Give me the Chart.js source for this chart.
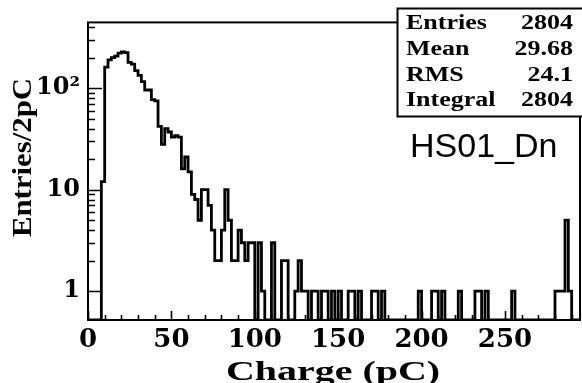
<!DOCTYPE html>
<html>
<head>
<meta charset="utf-8">
<script src="https://cdn.jsdelivr.net/npm/chart.js@4/dist/chart.umd.min.js"></script>
<style>
  html, body { margin: 0; padding: 0; background: #fff; }
  #wrap { width: 582px; height: 383px; }
</style>
</head>
<body>
<div id="wrap"><canvas id="hist"></canvas></div>
<script>
// HS01_Dn charge spectrum, 2 pC bins starting at 0
const binWidth = 2;
const counts = [
  0, 0, 0, 0, 12, 161, 190, 200, 207, 222,
  228, 224, 180, 173, 149, 134, 116, 96, 96, 77,
  75, 42, 28, 40, 37, 33, 34, 33, 16, 21,
  15, 9, 8, 5, 10, 10, 7, 4, 2, 2,
  4, 10, 5, 2, 2, 4, 3, 2, 3, 3,
  0, 3, 1, 0, 0, 3, 0, 0, 2, 2,
  0, 0, 1, 2, 1, 1, 0, 1, 1, 0,
  1, 1, 0, 1, 0, 1, 0, 0, 1, 1,
  0, 1, 0, 0, 0, 1, 1, 0, 1, 0,
  0, 0, 0, 0, 0, 0, 0, 0, 0, 1,
  0, 0, 0, 1, 1, 0, 1, 0, 0, 0,
  0, 1, 0, 0, 0, 0, 1, 1, 0, 1,
  0, 0, 0, 0, 0, 0, 0, 1, 0, 0,
  0, 0, 0, 0, 0, 0, 0, 0, 0, 0,
  1, 1, 1, 5, 1, 0, 0, 0
];

const xTickValues = [0, 50, 100, 150, 200, 250];
const xTickLabels = ["0", "50", "100", "150", "200", "250"];
const yTickValues = [1, 10, 100];
const yTickLabels = ["1", "10", "10\u00b2"];

const statNames = ["Entries", "Mean", "RMS", "Integral"];
const statValues = ["2804", "29.68", "24.1", "2804"];
const histName = "HS01_Dn";
const xTitle = "Charge (pC)";
const yTitle = "Entries/2pC";

const xMin = 0, xMax = 295;
const yMin = 0.52, yMax = 445;

// empty bins sit on the bottom of the frame, like ROOT does on a log axis
const points = counts.map((c, i) => ({ x: i * binWidth, y: c > 0 ? c : yMin }));
points.push({ x: counts.length * binWidth, y: points[points.length - 1].y });

// minor ticks 1..9 per decade
const yAllTicks = [];
for (let d = 1; d <= 100; d *= 10) {
  for (let k = 1; k <= 9; k++) {
    if (k * d < yMax) yAllTicks.push(k * d);
  }
}

function stretchText(ctx, text, x, y, sx, align) {
  ctx.save();
  ctx.translate(x, y);
  ctx.scale(sx, 1);
  ctx.textAlign = align;
  ctx.fillText(text, 0, 0);
  ctx.restore();
}

const rootStyle = {
  id: "rootStyle",
  afterDatasetsDraw(chart) {
    const { ctx, chartArea: a, scales } = chart;
    const xs = scales.x, ys = scales.y;
    ctx.save();
    ctx.strokeStyle = "#000";
    ctx.fillStyle = "#000";

    // ticks inside the frame
    ctx.lineWidth = 1.6;
    ctx.beginPath();
    ys.ticks.forEach((t) => {
      const py = Math.round(ys.getPixelForValue(t.value)) + 0.5;
      const len = yTickValues.includes(t.value) ? 14 : 7;
      ctx.moveTo(a.left, py);
      ctx.lineTo(a.left + len, py);
    });
    xs.ticks.forEach((t) => {
      if (t.value > 290) return;
      const px = Math.round(xs.getPixelForValue(t.value)) + 0.5;
      const len = t.value % 50 === 0 ? 9 : 5;
      ctx.moveTo(px, a.bottom);
      ctx.lineTo(px, a.bottom - len);
    });
    ctx.stroke();

    // frame
    ctx.lineWidth = 2;
    ctx.strokeRect(a.left, a.top, a.right - a.left, a.bottom - a.top);

    // stats box
    ctx.fillStyle = "#fff";
    ctx.fillRect(397, 8, 186, 109);
    ctx.strokeRect(397.5, 8.5, 186, 108);
    ctx.fillStyle = "#000";
    ctx.font = "bold 20px 'Liberation Serif'";
    ctx.textBaseline = "alphabetic";
    const rows = [29, 55, 80.5, 106];
    statNames.forEach((n, i) => {
      stretchText(ctx, n, 406, rows[i], 1.3, "left");
      stretchText(ctx, statValues[i], 573, rows[i], 1.3, "right");
    });

    // histogram name
    ctx.font = "34px 'Liberation Sans'";
    ctx.textAlign = "left";
    ctx.fillText(histName, 410, 156.5);

    // axis titles
    ctx.font = "bold 27px 'Liberation Serif'";
    stretchText(ctx, xTitle, 333, 380, 1.48, "center");

    ctx.save();
    ctx.translate(31, 157.5);
    ctx.rotate(-Math.PI / 2);
    ctx.scale(1.1, 1);
    ctx.font = "bold 28px 'Liberation Serif'";
    ctx.textAlign = "center";
    ctx.fillText(yTitle, 0, 0);
    ctx.restore();

    ctx.restore();
  }
};

const tickFontX = { family: "'DejaVu Serif'", weight: "bold", size: 26 };
const tickFontY = { family: "'DejaVu Serif'", weight: "bold", size: 24 };

new Chart(document.getElementById("hist").getContext("2d"), {
  type: "line",
  data: {
    datasets: [
      {
        data: points,
        stepped: "before",
        borderColor: "#000",
        borderWidth: 2.8,
        borderJoinStyle: "miter",
        pointRadius: 0,
        fill: false,
        tension: 0,
      },
    ],
  },
  options: {
    responsive: true,
    maintainAspectRatio: false,
    animation: false,
    layout: { padding: { top: 12, right: 2, left: 0, bottom: 0 } },
    plugins: { legend: { display: false }, tooltip: { enabled: false } },
    scales: {
      x: {
        type: "linear",
        min: xMin,
        max: xMax,
        grid: { display: false, drawTicks: false },
        border: { display: false },
        ticks: {
          stepSize: 10,
          includeBounds: false,
          autoSkip: false,
          maxRotation: 0,
          padding: 5,
          color: "#000",
          font: tickFontX,
          callback: (v) => {
            const i = xTickValues.indexOf(v);
            return i >= 0 ? xTickLabels[i] : "";
          },
        },
        afterFit: (s) => { s.height = 63; },
      },
      y: {
        type: "logarithmic",
        min: yMin,
        max: yMax,
        grid: { display: false, drawTicks: false },
        border: { display: false },
        afterBuildTicks: (s) => { s.ticks = yAllTicks.map((v) => ({ value: v })); },
        ticks: {
          autoSkip: false,
          padding: 8,
          color: "#000",
          font: tickFontY,
          callback: (v) => {
            const i = yTickValues.indexOf(v);
            return i >= 0 ? yTickLabels[i] : "";
          },
        },
        afterFit: (s) => { s.width = 88; },
      },
    },
  },
  plugins: [rootStyle],
});
</script>
</body>
</html>
